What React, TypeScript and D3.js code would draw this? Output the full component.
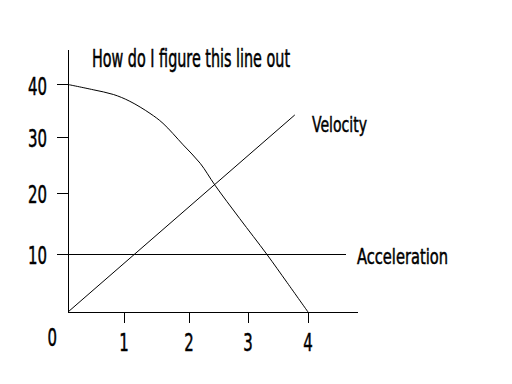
import React from "react";
import * as d3 from "d3";

const xTicks = [0, 1, 2, 3, 4];
const yTicks = [10, 20, 30, 40];
const xTickPx = [68, 124, 189, 248, 308];
const yTickPx = [312, 254, 193, 137, 84.5];

const titleText = "How do I figure this line out";
const velocityLabel = "Velocity";
const accelerationLabel = "Acceleration";

// Curve: [x, y]
const curveX = [0, 0.45, 0.81, 1.09, 1.4, 1.6, 1.91, 2.19, 2.44, 2.86, 3.31, 3.65, 4];
const curveY = [40, 39.0, 38.1, 36.8, 34.5, 32.6, 28.6, 25.3, 21.4, 15.8, 10, 5.1, 0];

const velocityX = [0, 3.78];
const velocityY = [0, 34.2];

const accelerationX = [-0.18, 4.63];
const accelerationY = [10, 10];

const xAxisEnd = 4.83;
const yAxisTop = 46.6;

const FONT = "'DejaVu Sans Condensed', 'DejaVu Sans', sans-serif";

export default function App() {
  const x = d3.scaleLinear().domain(xTicks).range(xTickPx);
  const y = d3.scaleLinear().domain([0, ...yTicks]).range(yTickPx);

  const curvePts: [number, number][] = curveX.map((v, i) => [v, curveY[i]]);
  const line = d3
    .line<[number, number]>()
    .x((d) => x(d[0]))
    .y((d) => y(d[1]))
    .curve(d3.curveCatmullRom.alpha(0.5));
  const straight = d3
    .line<[number, number]>()
    .x((d) => x(d[0]))
    .y((d) => y(d[1]));

  const velPts: [number, number][] = velocityX.map((v, i) => [v, velocityY[i]]);
  const accPts: [number, number][] = accelerationX.map((v, i) => [v, accelerationY[i]]);

  const digitW = 9.5;
  const textStroke = { stroke: "#000", strokeWidth: 0.5 };

  return (
    <svg
      width={512}
      height={384}
      style={{ position: "absolute", left: 0, top: 0, background: "#fff" }}
    >
      <rect x={0} y={0} width={512} height={384} fill="#fff" />
      <line x1={x(0)} x2={x(0)} y1={y(yAxisTop)} y2={y(0)} stroke="#000" strokeWidth={1} shapeRendering="crispEdges" />
      <line x1={x(0)} x2={x(xAxisEnd)} y1={y(0)} y2={y(0)} stroke="#000" strokeWidth={1} shapeRendering="crispEdges" />
      {yTicks.map((t) => (
        <g key={"y" + t}>
          <line x1={x(0) - 11} x2={x(0)} y1={y(t)} y2={y(t)} stroke="#000" strokeWidth={1} shapeRendering="crispEdges" />
          <text
            x={28}
            y={y(t) + 10}
            fontFamily={FONT}
            fontSize={25}
            textLength={String(t).length * digitW}
            lengthAdjust="spacingAndGlyphs"
            fill="#000"
            {...textStroke}
          >
            {t}
          </text>
        </g>
      ))}
      {xTicks.map((t) =>
        t === 0 ? (
          <text
            key={"x" + t}
            x={47.5}
            y={y(0) + 34}
            fontFamily={FONT}
            fontSize={25}
            textLength={digitW}
            lengthAdjust="spacingAndGlyphs"
            fill="#000"
            {...textStroke}
          >
            {t}
          </text>
        ) : (
          <g key={"x" + t}>
            <line x1={x(t)} x2={x(t)} y1={y(0)} y2={y(0) + 11} stroke="#000" strokeWidth={1} shapeRendering="crispEdges" />
            <text
              x={x(t) - digitW / 2}
              y={y(0) + 39}
              fontFamily={FONT}
              fontSize={25}
              textLength={digitW}
              lengthAdjust="spacingAndGlyphs"
              fill="#000"
              {...textStroke}
            >
              {t}
            </text>
          </g>
        )
      )}
      <path d={straight(accPts) || ""} fill="none" stroke="#000" strokeWidth={1} shapeRendering="crispEdges" />
      <path d={straight(velPts) || ""} fill="none" stroke="#000" strokeWidth={1} />
      <path d={line(curvePts) || ""} fill="none" stroke="#000" strokeWidth={1} />
      <text x={92} y={67} fontFamily={FONT} fontSize={24} textLength={198} lengthAdjust="spacingAndGlyphs" fill="#000" {...textStroke}>
        {titleText}
      </text>
      <text x={312} y={132} fontFamily={FONT} fontSize={22} textLength={55} lengthAdjust="spacingAndGlyphs" fill="#000" {...textStroke}>
        {velocityLabel}
      </text>
      <text x={357} y={264} fontFamily={FONT} fontSize={22} textLength={91} lengthAdjust="spacingAndGlyphs" fill="#000" {...textStroke}>
        {accelerationLabel}
      </text>
    </svg>
  );
}
